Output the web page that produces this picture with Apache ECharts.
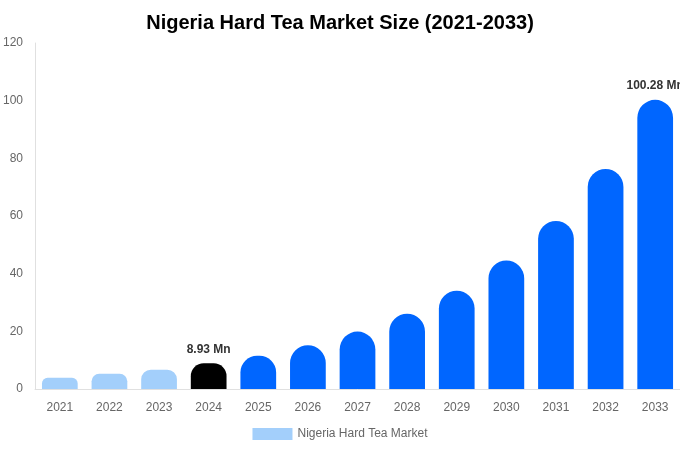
<!DOCTYPE html>
<html><head><meta charset="utf-8">
<script src="https://cdn.jsdelivr.net/npm/echarts@6/dist/echarts.min.js"></script>
<style>html,body{margin:0;padding:0;background:#fff}#c{width:680px;height:450px}</style>
</head><body><div id="c"></div>
<script>
const categories = ['2021','2022','2023','2024','2025','2026','2027','2028','2029','2030','2031','2032','2033'];
const values = [3.9, 5.3, 6.7, 8.93, 11.5, 15.2, 19.9, 26.1, 34.1, 44.6, 58.3, 76.3, 100.28];
const labelledYears = ['2024','2033'];
const yTicks = [0, 20, 40, 60, 80, 100, 120];
const seriesName = 'Nigeria Hard Tea Market';

const colorFor = (i) => {
  const y = +categories[i];
  if (y < 2024) return '#a3cffb';
  if (y === 2024) return '#000000';
  return '#0066ff';
};

const buildData = (radii) => values.map((v, i) => ({
  value: v,
  itemStyle: { color: colorFor(i), borderRadius: [radii[i], radii[i], 0, 0] },
  label: {
    show: labelledYears.includes(categories[i]),
    position: 'top',
    distance: 8,
    formatter: (p) => p.value + ' Mn',
    fontWeight: 'bold',
    fontSize: 12,
    color: '#333',
    fontFamily: 'Liberation Sans, Arial, sans-serif'
  }
}));

const chart = echarts.init(document.getElementById('c'));
const option = {
  animation: false,
  textStyle: { fontFamily: 'Liberation Sans, Arial, sans-serif' },
  title: {
    text: 'Nigeria Hard Tea Market Size (2021-2033)',
    left: 'center',
    top: 8,
    textStyle: { fontSize: 20, fontWeight: 'bold', color: '#000' }
  },
  legend: {
    bottom: 5,
    left: 'center',
    itemWidth: 40,
    itemHeight: 12,
    icon: 'rect',
    textStyle: { color: '#666', fontSize: 12 },
    data: [{ name: seriesName, itemStyle: { color: '#a3cffb' } }]
  },
  grid: { left: 33, right: 0, top: 43, bottom: 61, containLabel: false },
  xAxis: {
    type: 'category',
    data: categories,
    axisLine: { show: true, lineStyle: { color: '#e0e0e0' } },
    axisTick: { show: false },
    axisLabel: { color: '#666', fontSize: 12, margin: 13 }
  },
  yAxis: {
    type: 'value',
    min: yTicks[0],
    max: yTicks[yTicks.length - 1],
    interval: yTicks[1] - yTicks[0],
    axisLine: { show: true, lineStyle: { color: '#e0e0e0' } },
    axisTick: { show: false },
    splitLine: { show: false },
    axisLabel: { color: '#666', fontSize: 12, margin: 12 }
  },
  series: [{
    name: seriesName,
    type: 'bar',
    barWidth: '72%',
    data: buildData(values.map(() => 18))
  }]
};
chart.setOption(option);
// radius limited to half the bar's pixel height, max half the bar width
const zeroPx = chart.convertToPixel({ yAxisIndex: 0 }, 0);
const radii = values.map(v => {
  const h = zeroPx - chart.convertToPixel({ yAxisIndex: 0 }, v);
  return Math.min(18, h / 2);
});
chart.setOption({ series: [{ data: buildData(radii) }] });
</script></body></html>
